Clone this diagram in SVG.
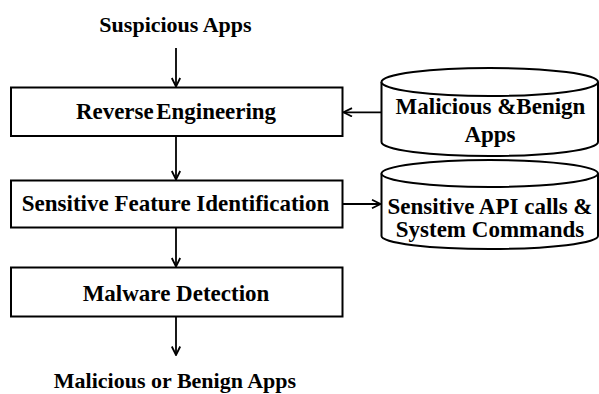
<svg xmlns="http://www.w3.org/2000/svg" width="599" height="394" viewBox="0 0 599 394">
<style>
  .box { fill: #fff; stroke: #000; stroke-width: 2; }
  .cyl { fill: #fff; stroke: #000; stroke-width: 2; }
  .lbl { font-family: "Liberation Serif", "Times New Roman", serif; font-weight: bold; fill: #000; text-anchor: middle; }
  .in { font-size: 23px; }
  .out { font-size: 22px; }
  .conn { stroke: #000; stroke-width: 1.8; fill: none; marker-end: url(#arr); }
</style>
<defs>
  <marker id="arr" viewBox="0 0 10 10" refX="9.5" refY="5" markerWidth="10" markerHeight="10" markerUnits="userSpaceOnUse" orient="auto">
    <path d="M1,0.8 L9.5,5 L1,9.2" fill="none" stroke="#000" stroke-width="1.8"/>
  </marker>
</defs>
<rect width="599" height="394" fill="#fff"/>
<g id="input">
  <text class="lbl out" x="175.5" y="32.3">Suspicious Apps</text>
</g>
<g id="reverse-engineering">
  <rect class="box" x="11" y="87.5" width="331.5" height="48.5"/>
  <text class="lbl in" x="176" y="119.3" word-spacing="-3" textLength="200" lengthAdjust="spacingAndGlyphs">Reverse Engineering</text>
</g>
<g id="feature-identification">
  <rect class="box" x="11" y="180.5" width="331.5" height="47"/>
  <text class="lbl in" x="175.5" y="210.7">Sensitive Feature Identification</text>
</g>
<g id="malware-detection">
  <rect class="box" x="11" y="267.5" width="331.5" height="49"/>
  <text class="lbl in" x="176" y="301.3">Malware Detection</text>
</g>
<g id="output">
  <text class="lbl out" x="175" y="388.3">Malicious or Benign Apps</text>
</g>
<g id="db-apps">
  <path class="cyl" d="M381.5,82 L381.5,142 A108.25,14 0 0 0 598,142 L598,82"/>
  <ellipse class="cyl" cx="489.75" cy="82" rx="108.25" ry="14"/>
  <text class="lbl in" x="490.5" y="114.3">Malicious &amp;Benign</text>
  <text class="lbl in" x="490" y="141.7">Apps</text>
</g>
<g id="db-features">
  <path class="cyl" d="M381.5,173.5 L381.5,236 A108.25,13 0 0 0 598,236 L598,173.5"/>
  <ellipse class="cyl" cx="489.75" cy="173.5" rx="108.25" ry="13.5"/>
  <text class="lbl in" x="490" y="214.3">Sensitive API calls &amp;</text>
  <text class="lbl in" x="490" y="236.7">System Commands</text>
</g>
<g id="connectors">
  <line class="conn" x1="176" y1="48" x2="176" y2="86.5"/>
  <line class="conn" x1="176" y1="136" x2="176" y2="179.5"/>
  <line class="conn" x1="176" y1="227.5" x2="176" y2="266.5"/>
  <line class="conn" x1="176" y1="317" x2="176" y2="355"/>
  <line class="conn" x1="381.5" y1="112.3" x2="343.5" y2="112.3"/>
  <line class="conn" x1="342.5" y1="204" x2="380.5" y2="204"/>
</g>
</svg>
